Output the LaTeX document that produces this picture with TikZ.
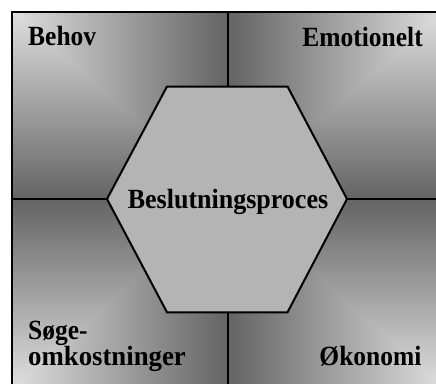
\documentclass[tikz,border=0pt]{standalone}
\usepackage{fontspec}
\setmainfont{Liberation Serif}
\definecolor{lightg}{RGB}{222,222,222}
\definecolor{darkg}{RGB}{100,100,100}
\definecolor{hexg}{RGB}{180,180,180}
\newcommand{\tallbox}[2][1]{\scalebox{#1}[1.09]{#2}}
\begin{document}
\begin{tikzpicture}[x=1pt,y=-1pt,
  lbl/.style={font=\fontsize{25.5}{26}\selectfont\bfseries, inner sep=0pt},
  frame/.style={draw=black, line width=2pt},
]
\useasboundingbox (0,0) rectangle (436,383);
\begin{scope}
\clip (0,0) rectangle (436,383);
% corners
\coordinate (c) at (228,199);
\coordinate (tl) at (12,12);
\coordinate (tm) at (228,12);
\coordinate (tr) at (444,12);
\coordinate (ml) at (12,199);
\coordinate (mr) at (444,199);
\coordinate (bl) at (12,386);
\coordinate (bm) at (228,386);
\coordinate (br) at (444,386);
% top-left quadrant
\shade[top color=lightg, bottom color=darkg] (tl) rectangle (c);
\shade[left color=lightg, right color=darkg] (tl) -- (tm) -- (c) -- cycle;
% top-right quadrant
\shade[top color=lightg, bottom color=darkg] (tm) rectangle (mr);
\shade[left color=darkg, right color=lightg] (tr) -- (tm) -- (c) -- cycle;
% bottom-left quadrant
\shade[top color=darkg, bottom color=lightg] (ml) rectangle (bm);
\shade[left color=lightg, right color=darkg] (bl) -- (bm) -- (c) -- cycle;
% bottom-right quadrant
\shade[top color=darkg, bottom color=lightg] (c) rectangle (br);
\shade[left color=darkg, right color=lightg] (br) -- (bm) -- (c) -- cycle;
% borders
\draw[frame] (tl) rectangle (c);
\draw[frame] (tm) rectangle (mr);
\draw[frame] (ml) rectangle (bm);
\draw[frame] (c) rectangle (br);
\end{scope}
% hexagon
\coordinate (h1) at (107,199);
\coordinate (h2) at (167,86.5);
\coordinate (h3) at (287.5,86.5);
\coordinate (h4) at (347,199);
\coordinate (h5) at (287.5,312.3);
\coordinate (h6) at (167,312.3);
\draw[frame, fill=hexg, line join=miter] (h1) -- (h2) -- (h3) -- (h4) -- (h5) -- (h6) -- cycle;
\node[lbl, anchor=base] (center) at (228,208.5) {\tallbox[1.02]{Beslutningsproces}};
\node[lbl, anchor=base west] (behov) at (28,45.5) {\tallbox{Behov}};
\node[lbl, anchor=base east] (emo) at (423,46.5) {\tallbox{Emotionelt}};
\node[lbl, anchor=base west] (soge) at (28,339) {\tallbox{Søge-}};
\node[lbl, anchor=base west] (omk) at (28,365) {\tallbox[1.05]{omkostninger}};
\node[lbl, anchor=base east] (oko) at (421.7,365) {\tallbox{Økonomi}};
\end{tikzpicture}
\end{document}
